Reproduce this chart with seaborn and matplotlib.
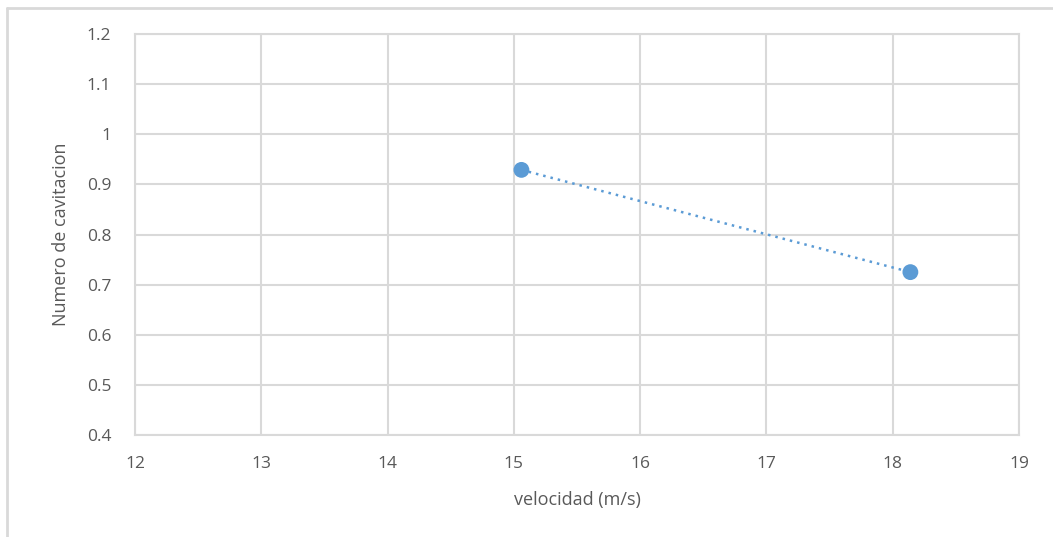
import matplotlib.pyplot as plt
from matplotlib.lines import Line2D
import numpy as np
import pandas as pd
import seaborn as sns

velocidad = [15.06, 18.14]
cavitacion = [0.929, 0.725]
x_ticks = [12, 13, 14, 15, 16, 17, 18, 19]
y_ticks = [0.4, 0.5, 0.6, 0.7, 0.8, 0.9, 1.0, 1.1, 1.2]
y_labels = ['0.4', '0.5', '0.6', '0.7', '0.8', '0.9', '1', '1.1', '1.2']

df = pd.DataFrame({'velocidad': velocidad, 'cavitacion': cavitacion})

sns.set_style('white')
plt.rcParams['font.family'] = ['Open Sans', 'DejaVu Sans']

color = '#5b9bd5'
grid_color = '#d9d9d9'
text_color = '#595959'

fig = plt.figure(figsize=(10.53, 5.37), dpi=100)
ax = fig.add_axes([0.1282, 0.1899, 0.8395, 0.7467])

sns.lineplot(data=df, x='velocidad', y='cavitacion', ax=ax, color=color,
             linestyle=(0, (1, 2)), linewidth=1.8)
sns.scatterplot(data=df, x='velocidad', y='cavitacion', ax=ax, color=color,
                s=130, edgecolor='none', zorder=3)

ax.set_xlim(12, 19)
ax.set_ylim(0.4, 1.2)
ax.set_xticks(x_ticks)
ax.set_yticks(y_ticks)
ax.set_yticklabels(y_labels)
ax.grid(True, color=grid_color, linewidth=1.5)
ax.set_axisbelow(True)
for side in ax.spines.values():
    side.set_color(grid_color)
    side.set_linewidth(1.5)
ax.tick_params(axis='x', length=0, labelsize=12.5, colors=text_color, pad=15)
ax.tick_params(axis='y', length=0, labelsize=12.5, colors=text_color, pad=17)
ax.set_xlabel('velocidad (m/s)', fontsize=13, color=text_color, labelpad=14)
ax.set_ylabel('Numero de cavitacion', fontsize=13, color=text_color, labelpad=12)

# chart-area border (only top and left visible in the reference)
fig.add_artist(Line2D([7 / 1053, 7 / 1053], [0, 1 - 8 / 537], color='#d9d9d9',
                      linewidth=2, transform=fig.transFigure))
fig.add_artist(Line2D([7 / 1053, 1], [1 - 8 / 537, 1 - 8 / 537], color='#d9d9d9',
                      linewidth=2, transform=fig.transFigure))

fig.savefig('out.png', dpi=100)
plt.close(fig)
